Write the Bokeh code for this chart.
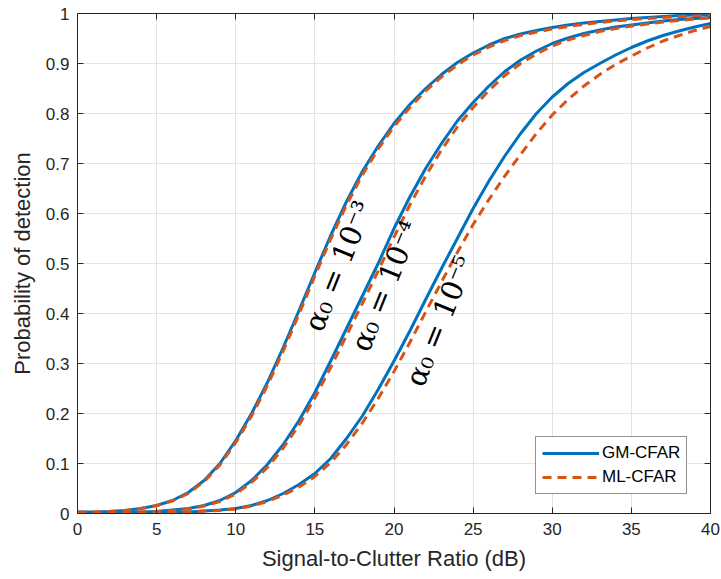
import numpy as np
from bokeh.plotting import figure
from bokeh.models import (ColumnDataSource, FixedTicker, LinearAxis, Range1d, Legend, LegendItem,
                          Label, CustomJSTickFormatter)
from bokeh.embed import file_html
from bokeh.resources import INLINE

# ---- data ----
scr = list(range(0, 41))
gm_1e3 = [0.003, 0.003, 0.004, 0.006, 0.010, 0.016, 0.026, 0.042, 0.066, 0.100, 0.146,
          0.200, 0.262, 0.332, 0.406, 0.482, 0.556, 0.624, 0.684, 0.735, 0.780,
          0.818, 0.850, 0.878, 0.902, 0.921, 0.937, 0.950, 0.959, 0.966, 0.972,
          0.977, 0.981, 0.984, 0.987, 0.990, 0.992, 0.994, 0.996, 0.997, 0.998]
ml_1e3 = [0.003, 0.003, 0.004, 0.006, 0.010, 0.016, 0.025, 0.040, 0.064, 0.097, 0.142,
          0.195, 0.256, 0.325, 0.399, 0.475, 0.549, 0.617, 0.677, 0.729, 0.774,
          0.812, 0.845, 0.873, 0.897, 0.917, 0.933, 0.946, 0.956, 0.963, 0.969,
          0.974, 0.978, 0.982, 0.985, 0.988, 0.990, 0.992, 0.994, 0.995, 0.996]
gm_1e4 = [0.001, 0.001, 0.001, 0.002, 0.003, 0.004, 0.007, 0.010, 0.016, 0.026, 0.042,
          0.066, 0.098, 0.138, 0.186, 0.242, 0.305, 0.370, 0.435, 0.500, 0.570,
          0.633, 0.690, 0.740, 0.785, 0.822, 0.855, 0.884, 0.907, 0.925, 0.940,
          0.951, 0.960, 0.967, 0.973, 0.977, 0.981, 0.985, 0.988, 0.990, 0.992]
ml_1e4 = [0.001, 0.001, 0.001, 0.002, 0.003, 0.004, 0.006, 0.009, 0.015, 0.024, 0.039,
          0.062, 0.092, 0.131, 0.177, 0.231, 0.292, 0.356, 0.420, 0.485, 0.553,
          0.617, 0.675, 0.727, 0.773, 0.812, 0.846, 0.876, 0.900, 0.919, 0.935,
          0.947, 0.956, 0.964, 0.970, 0.975, 0.979, 0.983, 0.986, 0.989, 0.991]
gm_1e5 = [0.000, 0.000, 0.000, 0.001, 0.001, 0.001, 0.002, 0.003, 0.005, 0.007, 0.010,
          0.016, 0.026, 0.040, 0.058, 0.080, 0.110, 0.150, 0.195, 0.248, 0.305,
          0.365, 0.428, 0.490, 0.550, 0.610, 0.665, 0.715, 0.760, 0.800, 0.833,
          0.860, 0.882, 0.900, 0.917, 0.932, 0.945, 0.956, 0.965, 0.973, 0.980]
ml_1e5 = [0.000, 0.000, 0.000, 0.001, 0.001, 0.001, 0.002, 0.003, 0.005, 0.006, 0.009,
          0.015, 0.024, 0.037, 0.053, 0.074, 0.102, 0.138, 0.181, 0.230, 0.284,
          0.342, 0.403, 0.463, 0.522, 0.578, 0.628, 0.675, 0.718, 0.760, 0.797,
          0.828, 0.855, 0.878, 0.898, 0.915, 0.931, 0.945, 0.956, 0.966, 0.974]

x_ticks = [0, 5, 10, 15, 20, 25, 30, 35, 40]
y_ticks = [0, 0.1, 0.2, 0.3, 0.4, 0.5, 0.6, 0.7, 0.8, 0.9, 1]
y_tick_labels = ["0", "0.1", "0.2", "0.3", "0.4", "0.5", "0.6", "0.7", "0.8", "0.9", "1"]

curve_labels = ["α₀ = 10⁻³", "α₀ = 10⁻⁴", "α₀ = 10⁻⁵"]
label_x = [16.5, 19.45, 22.9]
label_y = [0.495, 0.455, 0.385]

legend_names = ["GM-CFAR", "ML-CFAR"]

BLUE = "#0072BD"
ORANGE = "#D95319"
AX = "#262626"
FONT = "Liberation Sans"

p = figure(width=721, height=579, output_backend="svg", toolbar_location=None,
           x_range=Range1d(0, 40), y_range=Range1d(0, 1),
           min_border_left=77, min_border_right=11, min_border_top=13, min_border_bottom=66)
p.outline_line_color = None

src = ColumnDataSource(dict(x=scr, g3=gm_1e3, m3=ml_1e3, g4=gm_1e4, m4=ml_1e4, g5=gm_1e5, m5=ml_1e5))

gm_rs = []
ml_rs = []
for g, m in [("g3", "m3"), ("g4", "m4"), ("g5", "m5")]:
    gm_rs.append(p.line("x", g, source=src, line_color=BLUE, line_width=3, line_join="round"))
    ml_rs.append(p.line("x", m, source=src, line_color=ORANGE, line_width=3, line_dash="9 6"))

def style_axis(ax, labels=True):
    ax.axis_line_color = AX
    ax.axis_line_width = 1
    ax.major_tick_line_color = AX
    ax.major_tick_in = 6
    ax.major_tick_out = 0
    ax.minor_tick_line_color = None
    ax.major_label_text_font = FONT
    ax.major_label_text_font_size = "17px"
    ax.major_label_text_color = AX
    ax.axis_label_text_font = FONT
    ax.axis_label_text_font_size = "22px"
    ax.axis_label_text_font_style = "normal"
    ax.axis_label_text_color = AX
    if not labels:
        ax.formatter = CustomJSTickFormatter(code="return ''")

xa = p.xaxis[0]
xa.ticker = FixedTicker(ticks=x_ticks)
xa.axis_label = "Signal-to-Clutter Ratio (dB)"
style_axis(xa)
xa.major_label_standoff = 9
xa.axis_label_standoff = 8

ya = p.yaxis[0]
ya.ticker = FixedTicker(ticks=y_ticks)
ya.major_label_overrides = {t: s for t, s in zip(y_ticks, y_tick_labels)}
ya.axis_label = "Probability of detection"
style_axis(ya)
ya.major_label_standoff = 8
ya.axis_label_standoff = 8

top = LinearAxis(ticker=FixedTicker(ticks=x_ticks))
style_axis(top, labels=False)
top.major_label_standoff = 0
p.add_layout(top, "above")
right = LinearAxis(ticker=FixedTicker(ticks=y_ticks))
style_axis(right, labels=False)
right.major_label_standoff = 0
p.add_layout(right, "right")

p.xgrid.ticker = FixedTicker(ticks=x_ticks)
p.ygrid.ticker = FixedTicker(ticks=y_ticks)
for g in (p.xgrid[0], p.ygrid[0]):
    g.grid_line_color = "#e3e3e3"
    g.grid_line_width = 1

for t, lx, ly in zip(curve_labels, label_x, label_y):
    p.add_layout(Label(x=lx, y=ly, text=t, angle=np.deg2rad(68), text_align="center",
                       text_baseline="middle", text_font="DejaVu Serif", text_font_size="29px",
                       text_color="black"))

legend = Legend(items=[LegendItem(label=legend_names[0], renderers=[gm_rs[0]]),
                       LegendItem(label=legend_names[1], renderers=[ml_rs[0]])],
                location=(458, 19), orientation="vertical")
legend.label_text_font = FONT
legend.label_text_font_size = "17px"
legend.label_text_color = "black"
legend.glyph_width = 57
legend.glyph_height = 20
legend.label_height = 20
legend.label_standoff = 3
legend.padding = 6
legend.spacing = 4
legend.margin = 0
legend.border_line_color = AX
legend.border_line_width = 1
legend.background_fill_color = "white"
legend.background_fill_alpha = 1
p.add_layout(legend, "center")

open("out.html", "w").write(file_html(p, INLINE))
